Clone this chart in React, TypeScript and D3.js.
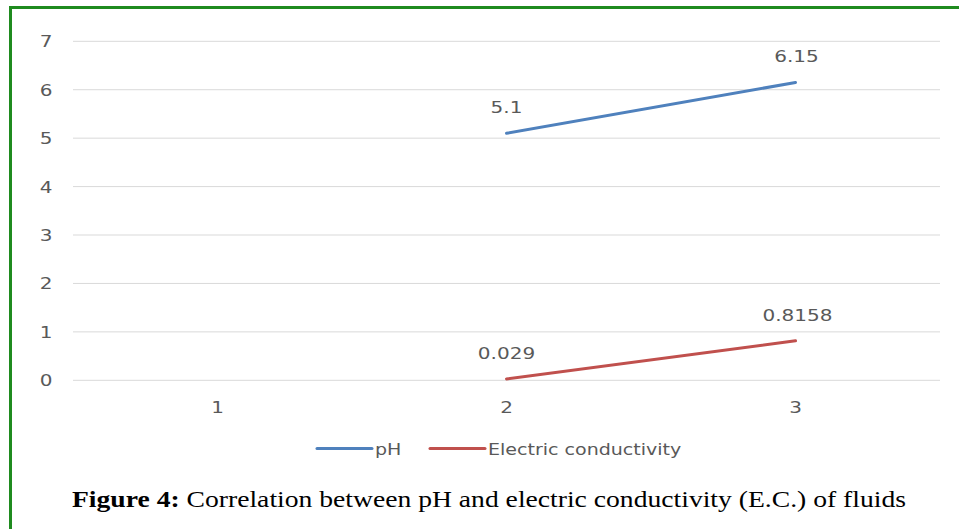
import React, { useRef, useEffect } from 'react'
import * as d3 from 'd3'

const categories = ['1', '2', '3']
const phValues: (number | null)[] = [null, 5.1, 6.15]
const ecValues: (number | null)[] = [null, 0.029, 0.8158]
const phLabels = ['', '5.1', '6.15']
const ecLabels = ['', '0.029', '0.8158']
const yTicks = [0, 1, 2, 3, 4, 5, 6, 7]

const App = () => {
  const svgRef = useRef<SVGSVGElement>(null)

  useEffect(() => {
    const w = 959
    const h = 529
    const svg = d3.select(svgRef.current)
    svg.selectAll('*').remove()
    svg.attr('width', w).attr('height', h).style('display', 'block').style('background', '#fff')

    // green frame (runs off the right/bottom edges)
    svg.append('rect')
      .attr('x', 10.5).attr('y', 7.5)
      .attr('width', 1000).attr('height', 600)
      .attr('fill', 'none').attr('stroke', '#1f8b1f').attr('stroke-width', 3)

    const xScale = d3.scaleBand().domain(categories).range([73, 940])
    const yScale = d3.scaleLinear().domain([0, 7]).range([380.3, 41.3])
    const cx = (c: string) => (xScale(c) as number) + xScale.bandwidth() / 2
    const font = "'DejaVu Sans', sans-serif"
    const sx = 1.25 // the source picture is stretched horizontally
    const tr = (x: number, y: number) => `translate(${x},${y}) scale(${sx},1)`

    svg.append('g').selectAll('line').data(yTicks).join('line')
      .attr('x1', 73).attr('x2', 940)
      .attr('y1', d => yScale(d)).attr('y2', d => yScale(d))
      .attr('stroke', '#d9d9d9').attr('stroke-width', 1)

    svg.append('g').selectAll('text').data(yTicks).join('text')
      .attr('transform', d => tr(46, yScale(d) + 6))
      .attr('text-anchor', 'middle')
      .attr('font-family', font).attr('font-size', 16).attr('fill', '#595959')
      .text(d => d)

    svg.append('g').selectAll('text').data(categories).join('text')
      .attr('transform', d => tr(cx(d), 413))
      .attr('text-anchor', 'middle')
      .attr('font-family', font).attr('font-size', 16).attr('fill', '#595959')
      .text(d => d)

    const series = [
      { vals: phValues, labels: phLabels, color: '#4f81bd', dx: [0, 0, 1] },
      { vals: ecValues, labels: ecLabels, color: '#c0504d', dx: [0, 0, 2] },
    ]
    series.forEach(s => {
      const line = d3.line<number | null>()
        .defined(d => d !== null)
        .x((d, i) => cx(categories[i]))
        .y(d => yScale(d as number))
      svg.append('path')
        .datum(s.vals)
        .attr('d', line)
        .attr('fill', 'none').attr('stroke', s.color).attr('stroke-width', 3)
        .attr('stroke-linecap', 'round')
      svg.append('g').selectAll('text').data(s.vals).join('text')
        .attr('transform', (d, i) => tr(cx(categories[i]) + s.dx[i], (d === null ? 0 : yScale(d)) - 20))
        .attr('text-anchor', 'middle')
        .attr('font-family', font).attr('font-size', 16).attr('fill', '#595959')
        .text((d, i) => s.labels[i])
    })

    // legend
    const legend = [
      { name: 'pH', color: '#4f81bd', x: 317 },
      { name: 'Electric conductivity', color: '#c0504d', x: 430 },
    ]
    const lg = svg.append('g')
    legend.forEach(l => {
      lg.append('line')
        .attr('x1', l.x).attr('x2', l.x + 55)
        .attr('y1', 448.5).attr('y2', 448.5)
        .attr('stroke', l.color).attr('stroke-width', 3).attr('stroke-linecap', 'round')
      lg.append('text')
        .attr('transform', `translate(${l.x + 58},455) scale(1.27,1)`)
        .attr('font-family', font).attr('font-size', 15).attr('fill', '#595959')
        .text(l.name)
    })

    // caption
    const cap = svg.append('text')
      .attr('x', 72).attr('y', 507)
      .attr('font-family', "'Liberation Serif', serif").attr('font-size', 24).attr('fill', '#000')
      .attr('textLength', 834).attr('lengthAdjust', 'spacingAndGlyphs')
    cap.append('tspan').attr('font-weight', 'bold').text('Figure 4:')
    cap.append('tspan').text(' Correlation between pH and electric conductivity (E.C.) of fluids')
  }, [])

  return <svg ref={svgRef} style={{ position: 'absolute', left: 0, top: 0 }}></svg>
}

export default App
